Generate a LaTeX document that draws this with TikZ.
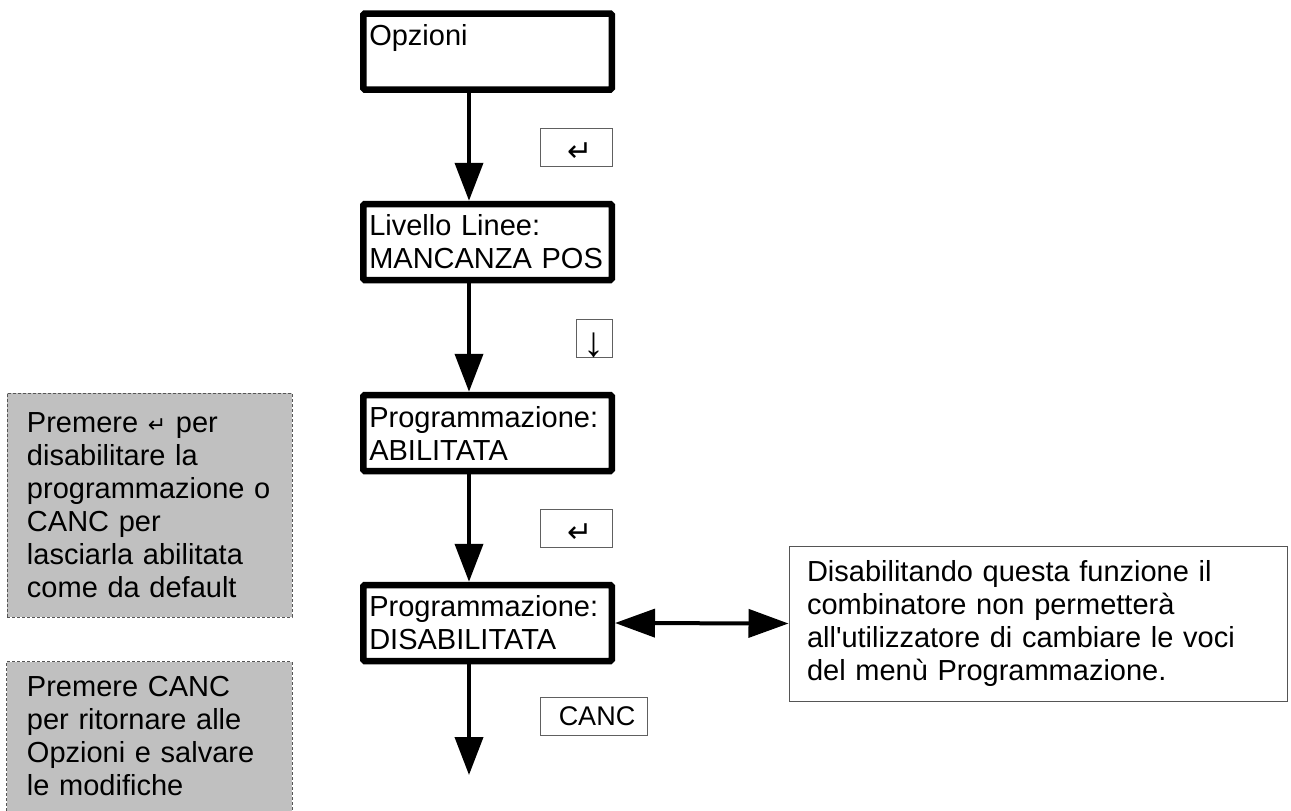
\documentclass[tikz,border=0pt]{standalone}
\usepackage{fontspec}
\setmainfont{Liberation Sans}[Ligatures=TeXOff]
\newfontfamily\symfont{DejaVu Sans}
\usetikzlibrary{arrows.meta}
\definecolor{notegray}{HTML}{C0C0C0}
\definecolor{edgegray}{HTML}{555555}
\definecolor{keyedge}{HTML}{606060}
\newcommand{\shiftglyph}[3]{\hspace*{#1}\raisebox{#2}[\height][\depth]{#3}}
\begin{document}
\begin{tikzpicture}[x=1pt,y=-1pt,
  txt/.style={font=\fontsize{29}{33}\selectfont},
  menubox/.style={txt, draw, line width=6.5pt, rounded corners=1.5pt,
    minimum width=248.5pt, minimum height=76pt, inner xsep=6pt, inner ysep=0pt,
    text width=236.5pt, align=left},
  keybox/.style={draw=keyedge, line width=1pt, inner sep=0pt, minimum height=38pt},
  enterkey/.style={font=\symfont\fontsize{30}{30}\selectfont},
  flow/.style={line width=4pt, -{Triangle[length=38pt,width=28pt]}},
  dbl/.style={line width=4pt, {Triangle[length=40pt,width=28pt]}-{Triangle[length=40pt,width=28pt]}},
  infobox/.style={txt, draw=edgegray, line width=1pt, minimum width=498pt, minimum height=155pt,
    inner xsep=18pt, text width=462pt, align=left},
  note/.style={txt, fill=notegray, minimum width=285pt, inner xsep=20pt, text width=245pt, align=left},
  notedash/.style={draw=edgegray, line width=1pt, dash pattern=on 3pt off 2pt}
]
\useasboundingbox (0,0) rectangle (1291,811);

% gray notes
\node[note, notedash, minimum height=224pt] (n1) at (149.5,505)
  {Premere {\symfont\fontsize{22}{22}\selectfont ↵} per\\disabilitare la\\programmazione o\\CANC per\\lasciarla abilitata\\come da default};
\node[note, minimum height=149pt] (n2) at (149.5,736.5)
  {Premere CANC\\per ritornare alle\\Opzioni e salvare\\le modifiche};
\draw[notedash] (n2.south west) |- (n2.north) -| (n2.south east);

% menu boxes
\node[menubox] (opz) at (487.5,51.5) {Opzioni\\\mbox{}};
\node[menubox] (liv) at (487.5,242) {Livello Linee:\\MANCANZA POS};
\node[menubox] (abil) at (487.5,433) {Programmazione:\\ABILITATA};
\node[menubox] (disab) at (487.5,623) {Programmazione:\\DISABILITATA};

% keys
\node[keybox, minimum width=72pt, enterkey] (k1) at (576,147) {\shiftglyph{8pt}{-5pt}{↵}};
\node[keybox, minimum width=36pt, font=\fontsize{42}{42}\selectfont] (kdown) at (594,338) {\shiftglyph{0pt}{-7pt}{↓}};
\node[keybox, minimum width=72pt, enterkey] (k2) at (576,528) {\shiftglyph{8pt}{-5pt}{↵}};
\node[keybox, minimum width=107pt, font=\fontsize{27}{27}\selectfont] (kcanc) at (593.5,716.5) {\hspace*{7pt}CANC};

% info box
\node[infobox] (info) at (1038,623.5)
  {Disabilitando questa funzione il\\combinatore non permetterà\\all'utilizzatore di cambiare le voci\\del menù Programmazione.};

% connectors
\coordinate (axis) at (469,0);
\coordinate (flowend) at (469,775);
\draw[flow] (axis |- opz.south) -- (axis |- liv.north);
\draw[flow] (axis |- liv.south) -- (axis |- abil.north);
\draw[flow] (axis |- abil.south) -- (axis |- disab.north);
\draw[flow] (axis |- disab.south) -- (flowend);
\draw[dbl] (disab.east) -- (info.west);
\end{tikzpicture}
\end{document}
